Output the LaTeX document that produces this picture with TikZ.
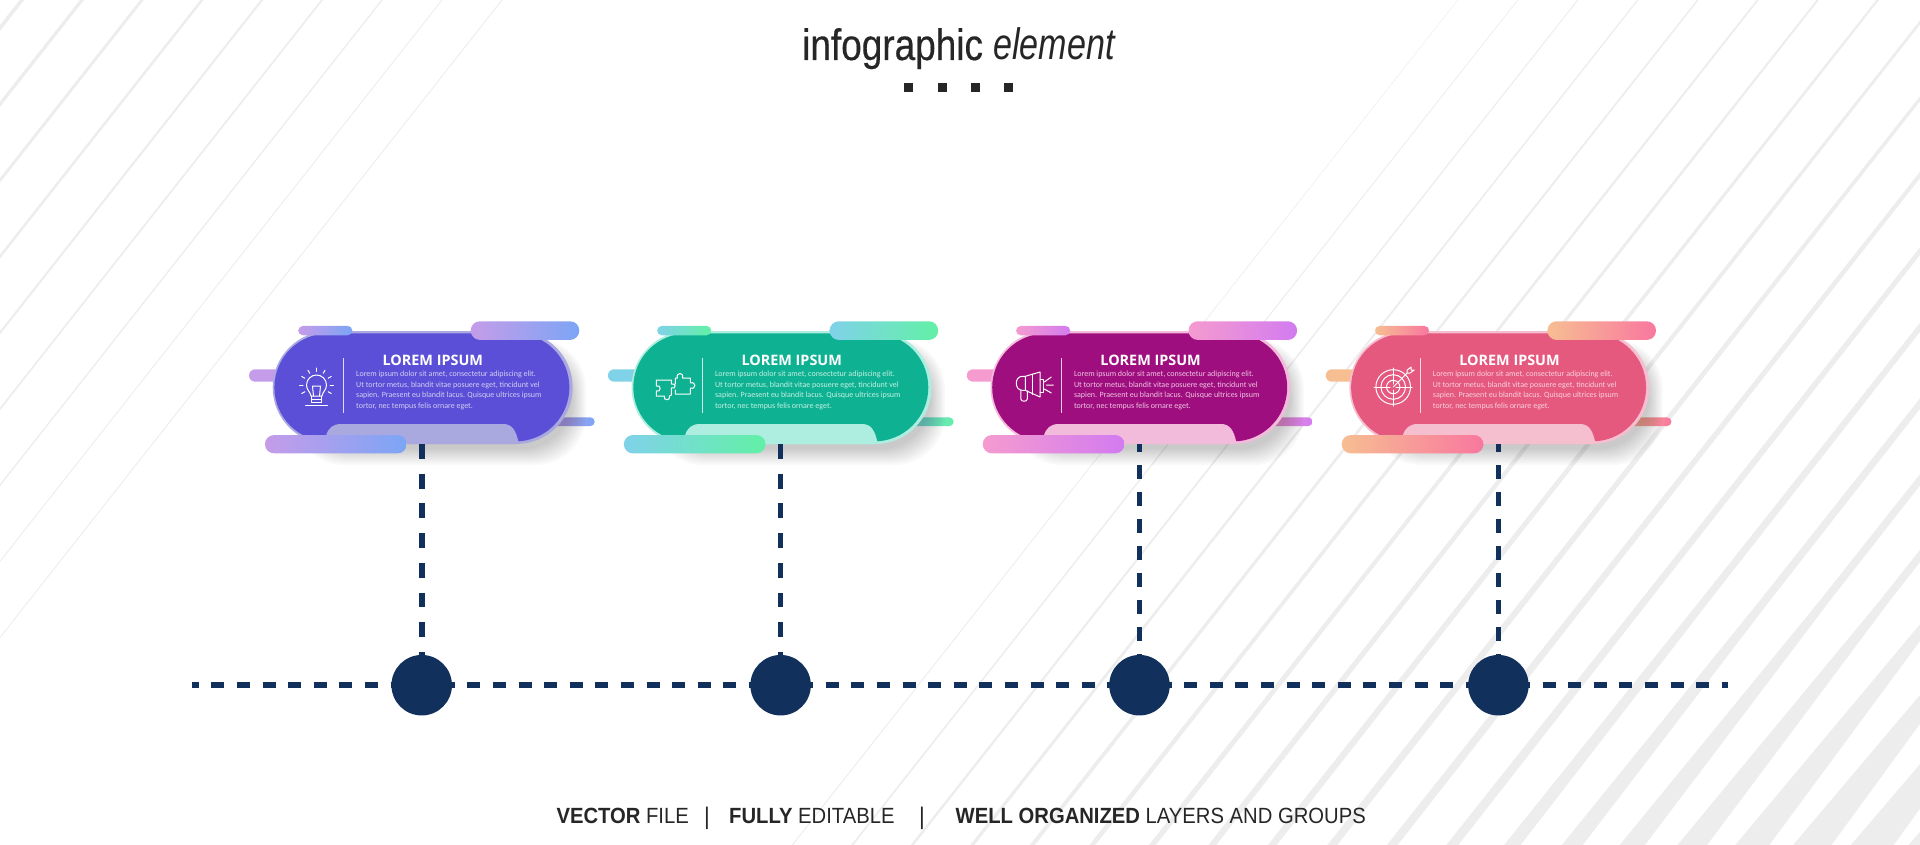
\documentclass[tikz,border=0pt]{standalone}
\usepackage{fontspec}
\usetikzlibrary{shapes.misc}
\setmainfont{Liberation Sans}
\newfontfamily\carlitof{Carlito}
\newfontfamily\opensf{Open Sans}
\newfontfamily\titlef[FakeStretch=0.84,FakeBold=0.35]{Liberation Sans}
\newfontfamily\titleif[FakeStretch=0.775]{Liberation Sans}
\newfontfamily\footf[FakeStretch=0.92]{Liberation Sans}
\definecolor{navy}{HTML}{12305C}
\definecolor{stripe}{HTML}{EDEDED}
\definecolor{ink}{HTML}{262626}
\tikzset{
  barnode/.style={rectangle,inner sep=0pt,outer sep=0pt,draw=none},
  pillnode/.style={rounded rectangle,inner sep=0pt,outer sep=0pt,draw=none},
  hub/.style={circle,fill=navy,inner sep=0pt,outer sep=0pt,minimum size=60.5pt},
  hdash/.style={draw=navy,line width=6pt,dash pattern=on 13pt off 12.6pt,dash phase=6.3pt},
  vdasha/.style={draw=navy,line width=5.7pt,dash pattern=on 14.8pt off 14.9pt},
  vdashb/.style={draw=navy,line width=5.7pt,dash pattern=on 13.4pt off 13.6pt,dash phase=5.7pt},
  sq/.style={rectangle,fill=ink,inner sep=0pt,outer sep=0pt,minimum size=9pt},
  icon/.style={draw=white,line width=1pt,line join=round,line cap=round},
}
\newcommand{\bulbicon}{%
  \draw[icon] (-5.5,9) .. controls (-6,5) and (-10,3) .. (-10,-2) .. controls (-10,-8) and (-5,-12) .. (0,-12) .. controls (5,-12) and (10,-8) .. (10,-2) .. controls (10,3) and (6,5) .. (5.5,9) -- cycle;
  \draw[icon] (-3,9) -- (-4,-1) -- (4,-1) -- (3,9);
  \draw[icon] (-5,12) -- (5,12) (-5,9) -- (-5,15) -- (5,15) -- (5,9);
  \draw[icon] (-11,18) -- (11,18);
  \foreach \a in {-30,0,30,60,90,120,150,180,210}{
    \draw[icon] ({13.5*cos(\a)},{-2-13.5*sin(\a)}) -- ({17*cos(\a)},{-2-17*sin(\a)});
  }}
\newcommand{\puzzleicon}{%
  \draw[icon] (-19,-7) -- (-4,-7) -- (-4,-3) .. controls (1,-5) and (1,3) .. (-4,1) -- (-4,8) -- (-6,9) .. controls (-4,14) and (-13,14) .. (-11,9) -- (-19,9) -- (-19,4) .. controls (-14,6) and (-14,-3) .. (-19,-1) -- cycle;
  \draw[icon] (0,-3) -- (0,-9) -- (2,-9) .. controls (0,-15) and (9,-15) .. (7,-9) -- (15,-9) -- (15,-4) .. controls (21,-6) and (21,3) .. (15,1) -- (15,7) -- (0,7) -- (0,3);
}
\newcommand{\megaicon}{%
  \draw[icon] (-9,-10.7) -- (5.7,-15) -- (5.7,10) -- (-9,3.3) -- cycle;
  \draw[icon] (-9,-10.7) -- (-12,-10.7) .. controls (-20,-10.7) and (-20,3.3) .. (-12,3.3) -- (-9,3.3);
  \draw[icon] (-2,-13) -- (-2,7.3);
  \draw[icon] (5.7,-8) -- (9,-8) -- (9,5) -- (5.7,5);
  \draw[icon] (-13.5,3.3) -- (-13.5,12) .. controls (-13.5,15) and (-7,15) .. (-7,12) -- (-7,4);
  \draw[icon] (10,-5) -- (17,-10) (12,-2) -- (19,-2) (10,2) -- (17,6);
}
\newcommand{\targeticon}{%
  \draw[icon] (0,0) circle[radius=17.3pt] (0,0) circle[radius=12.3pt] (0,0) circle[radius=6.7pt];
  \draw[icon] (-19,0) -- (-3,0) (3,0) -- (19,0) (0,-19) -- (0,-3) (0,3) -- (0,19);
  \draw[icon] (0,0) -- (14,-14) (14,-14) -- (14,-17) -- (18,-20) -- (18,-17) -- (21,-17) -- (17,-14) -- cycle;
}
% #1 index #2 xshift #3 dark #4 tint #5 gradA #6 gradB #7 body colour #8 icon
\newcommand{\infocard}[8]{%
  \definecolor{cdark}{HTML}{#3}\definecolor{ctint}{HTML}{#4}\definecolor{cgrada}{HTML}{#5}\definecolor{cgradb}{HTML}{#6}\definecolor{cbody}{HTML}{#7}%
  \begin{scope}[xshift=#2pt]
    \node[barnode,rounded corners=6.2pt,left color=cgrada,right color=cgrada,minimum width=40pt,minimum height=12.4pt] (ls#1) at (269,375.5) {};
    \node[barnode,rounded corners=4.4pt,left color=cgrada,right color=cgradb,minimum width=46pt,minimum height=8.8pt] (rs#1) at (571.7,421.7) {};
    \foreach \i in {0,...,8}{
      \fill[black,opacity=.022,rounded corners=50pt] ({294+\i*1.3},{339+\i*1.2}) rectangle ({586-\i*1.7},{465-\i*2});
    }
    \node[pillnode,fill=ctint,minimum width=300pt,minimum height=113pt] (card#1) at (422.7,387.5) {};
    \node[pillnode,fill=cdark,minimum width=295pt,minimum height=108pt] (core#1) at (421.9,387.4) {};
    \fill[ctint] (326,444) -- (326,436) .. controls (328,428) and (333,424) .. (341,424) -- (503,424) .. controls (512,424) and (516,430) .. (518.7,443) -- (516,444) -- cycle;
    \node[barnode,rounded corners=4.6pt,left color=cgrada,right color=cgradb,minimum width=54pt,minimum height=9.3pt] (ts#1) at (325.3,330.6) {};
    \node[barnode,rounded corners=9.3pt,left color=cgrada,right color=cgradb,minimum width=108.6pt,minimum height=18.7pt] (tb#1) at (525,330.6) {};
    \node[barnode,rounded corners=9.1pt,left color=cgrada,right color=cgradb,minimum width=141.7pt,minimum height=18.3pt] (bb#1) at (335.8,444.2) {};
    \draw[white,opacity=.8,line width=1pt] (343.7,358.3) -- (343.7,412.7);
    \node[text=white,inner sep=0pt,font=\opensf\bfseries\fontsize{14.4}{16}\selectfont] (title#1) at (432.8,360.4) {LOREM IPSUM};
    \node[anchor=north west,text=cbody,inner sep=0pt,align=left,font=\carlitof\fontsize{8}{10.7}\selectfont] (body#1) at (356,370.8) {Lorem ipsum dolor sit amet, consectetur adipiscing elit.\\Ut tortor metus, blandit vitae posuere eget, tincidunt vel\\sapien. Praesent eu blandit lacus. Quisque ultrices ipsum\\tortor, nec tempus felis ornare eget.};
    \begin{scope}[shift={(316.5,387)}]#8\end{scope}
  \end{scope}}
\begin{document}
\begin{tikzpicture}[x=1pt,y=-1pt]
  \useasboundingbox (0,0) rectangle (1920,845);
  \fill[white] (0,0) rectangle (1920,845);
  \begin{scope}
    \clip (0,0) rectangle (1920,845);
    % upper-left family
    \foreach \k in {0,...,8}{
      \pgfmathsetmacro{\X}{22+60*\k}
      \pgfmathsetmacro{\W}{max(1.1,4.6-0.5*\k)}
      \fill[stripe] ({\X-\W/2},0) -- ({\X+\W/2},0) -- ({-200},{(\X+\W/2+200)*1.27}) -- ({-200},{(\X-\W/2+200)*1.27}) -- cycle;
    }
    % lower-right family
    \foreach \k in {0,...,19}{
      \pgfmathsetmacro{\X}{1457.7+60*\k}
      \pgfmathsetmacro{\T}{min(1.1+0.7*\k,10)}
      \pgfmathsetmacro{\B}{max(1.2+0.95*\k,12+4.4*(\k-11))}
      \pgfmathsetmacro{\Z}{0.45*\T}
      \fill[stripe] ({\X-\Z/2},0) -- ({\X-472.4-\T/2},600) -- ({\X-665.4-\B/2},845) -- ({\X-665.4+\B/2},845) -- ({\X-472.4+\T/2},600) -- ({\X+\Z/2},0) -- cycle;
    }
  \end{scope}
  % heading
  \node[anchor=base west,text=ink,inner sep=0pt,font=\titlef\fontsize{44}{50}\selectfont] (head) at (802,60) {infographic};
  \node[anchor=base west,text=ink,inner sep=0pt,font=\titleif\itshape\fontsize{44}{50}\selectfont] (headi) at (993,60) {element};
  \node[sq] (s1) at (908.8,87.8) {};
  \node[sq] (s2) at (942.2,87.8) {};
  \node[sq] (s3) at (975.5,87.8) {};
  \node[sq] (s4) at (1008.2,87.8) {};
  % timeline
  \coordinate (hl) at (192,685);
  \coordinate (hr) at (1728,685);
  \draw[hdash] (hl) -- (hr);
  \node[hub] (c1) at (421.7,685.2) {};
  \node[hub] (c2) at (780.6,685.2) {};
  \node[hub] (c3) at (1139.5,685.2) {};
  \node[hub] (c4) at (1498.4,685.2) {};
  % cards
  \infocard{1}{0}{5A4FD6}{A9A8DF}{C59CE9}{7CA5F5}{D3CFF4}{\bulbicon}
  \infocard{2}{358.9}{0EB292}{AEEEE0}{80D2E9}{62F0A6}{C4F0E5}{\puzzleicon}
  \infocard{3}{717.8}{9F0E7E}{F3BBDB}{F59BCF}{D27BF0}{EEC4E2}{\megaicon}
  \infocard{4}{1076.7}{E5597F}{F6BFD0}{F7BE92}{F8779F}{F9D2DD}{\targeticon}
  % connectors
  \draw[vdasha] (c1 |- card1.south) -- (c1.north);
  \draw[vdasha] (c2 |- card2.south) -- (c2.north);
  \draw[vdashb] (c3 |- card3.south) -- (c3.north);
  \draw[vdashb] (c4 |- card4.south) -- (c4.north);
  % footer
  \node[anchor=base west,text=black!85,inner sep=0pt,font=\footf\fontsize{22}{24}\selectfont] (f1) at (556.3,823.3) {\textbf{VECTOR} FILE};
  \node[text=black!85,inner sep=0pt,font=\footf\fontsize{24}{26}\selectfont] (b1) at (707,818) {|};
  \node[anchor=base west,text=black!85,inner sep=0pt,font=\footf\fontsize{22}{24}\selectfont] (f2) at (729,823.3) {\textbf{FULLY} EDITABLE};
  \node[text=black!85,inner sep=0pt,font=\footf\fontsize{24}{26}\selectfont] (b2) at (922,818) {|};
  \node[anchor=base west,text=black!85,inner sep=0pt,font=\footf\fontsize{22}{24}\selectfont] (f3) at (955.5,823.3) {\textbf{WELL ORGANIZED} LAYERS AND GROUPS};
\end{tikzpicture}
\end{document}
